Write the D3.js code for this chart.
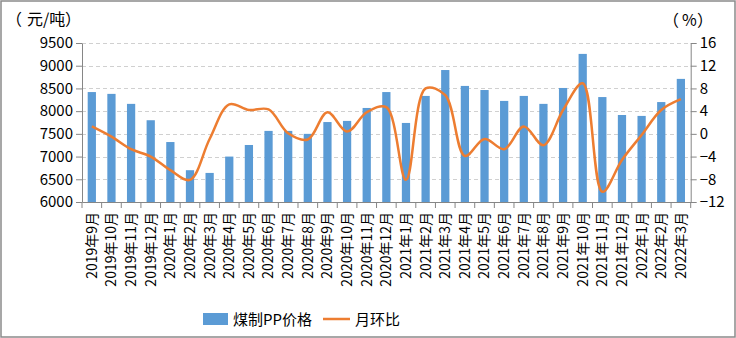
<!DOCTYPE html>
<html><head><meta charset="utf-8">
<script src="https://cdn.jsdelivr.net/npm/d3@7"></script>
<style>
html,body{margin:0;padding:0;background:#fff;}
svg text{font-family:"Noto Sans CJK SC","Microsoft YaHei",sans-serif;fill:#000;}
</style></head>
<body>
<svg id="c" width="736" height="338"></svg>
<script>
const categories = ["2019年9月","2019年10月","2019年11月","2019年12月","2020年1月","2020年2月","2020年3月","2020年4月","2020年5月","2020年6月","2020年7月","2020年8月","2020年9月","2020年10月","2020年11月","2020年12月","2021年1月","2021年2月","2021年3月","2021年4月","2021年5月","2021年6月","2021年7月","2021年8月","2021年9月","2021年10月","2021年11月","2021年12月","2022年1月","2022年2月","2022年3月"];
const priceValues = [8420,8380,8160,7800,7320,6700,6640,7000,7255,7565,7565,7500,7760,7785,8070,8420,7740,8335,8905,8555,8465,8225,8335,8160,8510,9260,8310,7915,7895,8200,8710];
const momValues = [1.3,-0.5,-2.7,-4.0,-6.4,-8.1,-0.9,5.2,4.2,4.3,0.1,-1.0,3.8,0.4,3.8,4.7,-8.1,8.0,6.8,-3.9,-0.9,-2.7,1.3,-2.0,4.2,8.9,-10.2,-4.6,-0.2,4.2,6.1];
const leftTicks = [6000,6500,7000,7500,8000,8500,9000,9500];
const rightTicks = [-12,-8,-4,0,4,8,12,16];
const seriesNames = ["煤制PP价格","月环比"];
const leftUnitParts = ["（","元/吨","）"], rightUnitParts = ["（","%","）"];

const svg = d3.select("#c");
const L = 82, R = 690.7, T = 43, B = 202;
const x = d3.scaleBand().domain(categories).range([L, R]).paddingInner(0).paddingOuter(0);
const yL = d3.scaleLinear().domain([6000, 9500]).range([B, T]);
const yR = d3.scaleLinear().domain([-12, 16]).range([B, T]);

// border
svg.append("rect").attr("x",1).attr("y",1).attr("width",734).attr("height",336)
  .attr("fill","none").attr("stroke","#8a8a8a").attr("stroke-width",1.5);

// gridlines
svg.append("g").selectAll("line").data(leftTicks.slice(1)).join("line")
  .attr("x1",L).attr("x2",R).attr("y1",d=>Math.round(yL(d))+0.5).attr("y2",d=>Math.round(yL(d))+0.5)
  .attr("stroke","#d0d0d0").attr("stroke-dasharray","4,3").attr("stroke-width",1);

// bars
const bw = x.bandwidth()*0.42;
svg.append("g").selectAll("rect").data(priceValues).join("rect")
  .attr("x",(d,i)=>x(categories[i])+(x.bandwidth()-bw)/2)
  .attr("y",d=>yL(d)).attr("width",bw).attr("height",d=>B-yL(d))
  .attr("fill","#5B9BD5");

// line
const line = d3.line().x((d,i)=>x(categories[i])+x.bandwidth()/2).y(d=>yR(d)).curve(d3.curveCatmullRom.alpha(0.5));
svg.append("path").datum(momValues).attr("d",line).attr("fill","none")
  .attr("stroke","#ED7D31").attr("stroke-width",2.5).attr("stroke-linejoin","round");

// axes
const axStyle = g => {
  g.selectAll(".domain").attr("stroke","#868686");
  g.selectAll(".tick line").attr("stroke","#868686");
};
const gl = svg.append("g").attr("transform",`translate(${L},0)`)
  .call(d3.axisLeft(yL).tickValues(leftTicks).tickSize(6).tickSizeOuter(0).tickPadding(3).tickFormat(d3.format("d")));
gl.call(axStyle);
gl.selectAll("text").attr("font-size",15).style("font-family","'Noto Sans CJK SC',sans-serif");

const gr = svg.append("g").attr("transform",`translate(${R},0)`)
  .call(d3.axisRight(yR).tickValues(rightTicks).tickSize(6).tickSizeOuter(0).tickPadding(3));
gr.call(axStyle);
gr.selectAll("text").attr("font-size",15).style("font-family","'Noto Sans CJK SC',sans-serif");

const gx = svg.append("g").attr("transform",`translate(0,${B})`)
  .call(d3.axisBottom(x).tickSize(0).tickSizeOuter(0));
gx.select(".domain").attr("stroke","#868686");
gx.selectAll(".tick text").attr("transform","rotate(-90)").attr("text-anchor","end")
  .attr("x",-10).attr("y",0).attr("dy","0.35em").attr("font-size",14);
// boundary ticks
svg.append("g").selectAll("line").data(d3.range(categories.length+1)).join("line")
  .attr("x1",i=>L+i*x.step()).attr("x2",i=>L+i*x.step()).attr("y1",B).attr("y2",B+6)
  .attr("stroke","#868686");

// units
const lu = svg.append("text").attr("y",25).attr("font-size",16);
lu.append("tspan").attr("x",6).text(leftUnitParts[0]);
lu.append("tspan").attr("x",27).text(leftUnitParts[1]);
lu.append("tspan").attr("x",65).text(leftUnitParts[2]);
const ru = svg.append("text").attr("y",26).attr("font-size",16);
ru.append("tspan").attr("x",663).text(rightUnitParts[0]);
ru.append("tspan").attr("x",682).text(rightUnitParts[1]);
ru.append("tspan").attr("x",697).text(rightUnitParts[2]);

// legend
svg.append("rect").attr("x",203).attr("y",313).attr("width",25).attr("height",12).attr("fill","#5B9BD5");
svg.append("text").attr("x",233).attr("y",325).attr("font-size",15).text(seriesNames[0]);
svg.append("line").attr("x1",323).attr("x2",350).attr("y1",319).attr("y2",319).attr("stroke","#ED7D31").attr("stroke-width",2.5);
svg.append("text").attr("x",355).attr("y",325).attr("font-size",15).text(seriesNames[1]);
</script>
</body></html>
